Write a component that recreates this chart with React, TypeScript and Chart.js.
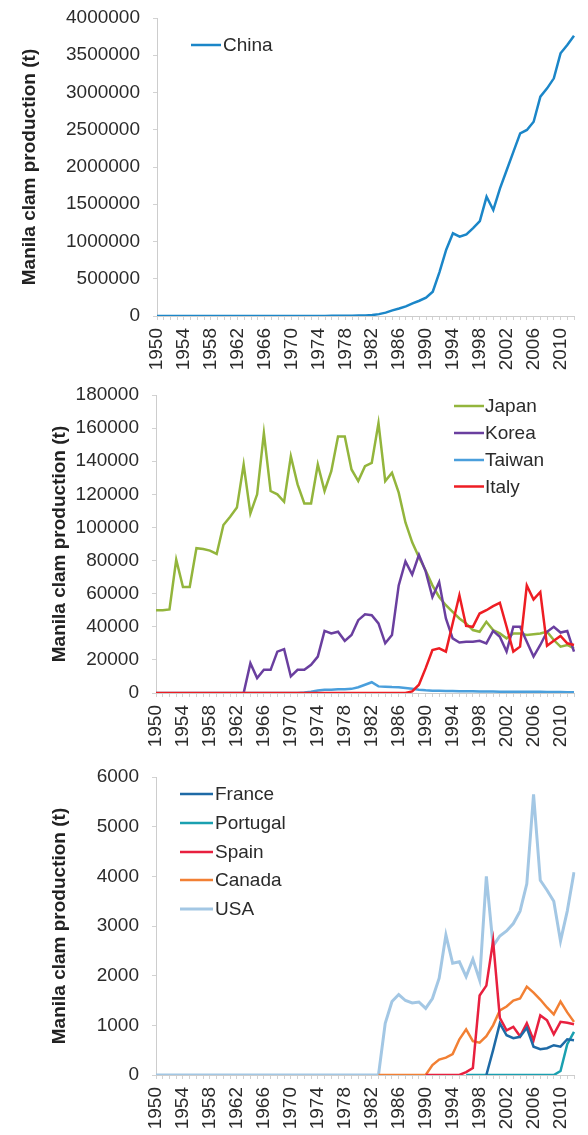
import React, { useEffect, useRef } from 'react';
import { Chart, registerables } from 'chart.js';

Chart.register(...registerables);

const YEARS = [
  1950, 1951, 1952, 1953, 1954, 1955, 1956, 1957, 1958, 1959,
  1960, 1961, 1962, 1963, 1964, 1965, 1966, 1967, 1968, 1969,
  1970, 1971, 1972, 1973, 1974, 1975, 1976, 1977, 1978, 1979,
  1980, 1981, 1982, 1983, 1984, 1985, 1986, 1987, 1988, 1989,
  1990, 1991, 1992, 1993, 1994, 1995, 1996, 1997, 1998, 1999,
  2000, 2001, 2002, 2003, 2004, 2005, 2006, 2007, 2008, 2009,
  2010, 2011, 2012,
];

// Panel 1
const CHINA = [
  0, 0, 0, 0, 0, 0, 0, 0, 0, 0,
  0, 0, 0, 0, 0, 0, 0, 0, 0, 0,
  0, 0, 0, 0, 0, 0, 2000, 3000, 4000, 5000,
  6000, 8000, 12000, 25000, 45000, 75000, 100000, 130000, 170000, 205000,
  245000, 326000, 590000, 890000, 1110000, 1065000, 1096000, 1180000, 1275000, 1600000,
  1423000, 1714000, 1960000, 2206000, 2452000, 2497000, 2608000, 2944000, 3056000, 3190000,
  3526000, 3638000, 3763000,
];

// Panel 2
const JAPAN = [
  50000, 50000, 50500, 80500, 64000, 64000, 87500, 87000, 86000, 84000,
  101500, 106500, 112000, 138000, 108500, 120000, 157000, 122000, 120000, 115500,
  143000, 126000, 114500, 114500, 138000, 122000, 134000, 155000, 155000, 135000,
  128000, 137000, 139000, 163000, 128000, 133000, 121000, 103000, 91000, 82000,
  74000, 65000, 58000, 53000, 49000, 45000, 42000, 38000, 37000, 43000,
  38000, 36000, 33000, 36000, 36000, 35000, 35500, 36000, 37000, 32000,
  28000, 29000, 27000,
];
const KOREA = [
  null, null, null, null, null, null, null, null, null, null,
  null, null, null, 0, 18000, 9000, 14000, 14000, 25000, 26500,
  10000, 14000, 14000, 17000, 22000, 37500, 36000, 37000, 31500, 35000,
  44000, 47500, 47000, 42000, 30000, 35000, 65000, 79500, 71500, 83500,
  73500, 58000, 67000, 45000, 33000, 30500, 31000, 31000, 31500, 30000,
  37500, 34000, 25000, 40000, 40000, 31000, 22000, 29000, 37000, 40000,
  36500, 37500, 25000,
];
const TAIWAN = [
  0, 0, 0, 0, 0, 0, 0, 0, 0, 0,
  0, 0, 0, 0, 0, 0, 0, 0, 0, 0,
  0, 0, 300, 800, 1500, 2000, 2000, 2200, 2300, 2500,
  3500, 5000, 6500, 4000, 3800, 3600, 3500, 3000, 2500, 2000,
  1600, 1400, 1300, 1200, 1200, 1100, 1000, 1000, 900, 900,
  900, 800, 800, 800, 700, 700, 700, 700, 600, 600,
  600, 500, 500,
];
const ITALY = [
  0, 0, 0, 0, 0, 0, 0, 0, 0, 0,
  0, 0, 0, 0, 0, 0, 0, 0, 0, 0,
  0, 0, 0, 0, 0, 0, 0, 0, 0, 0,
  0, 0, 0, 0, 0, 0, 0, 0, 1000, 5000,
  15000, 26000, 27000, 25000, 42000, 59000, 40500, 40000, 48000, 50000,
  52500, 54500, 40000, 25000, 28000, 65000, 56500, 61000, 28500, 31500,
  34500, 30000, 29000,
];

// Panel 3
const FRANCE = [
  null, null, null, null, null, null, null, null, null, null,
  null, null, null, null, null, null, null, null, null, null,
  null, null, null, null, null, null, null, null, null, null,
  null, null, null, null, null, null, null, null, null, null,
  null, null, null, null, null, null, null, null, null, 0,
  500, 1040, 800, 740, 770, 950, 570, 520, 540, 600,
  570, 720, 700,
];
const PORTUGAL = [
  null, null, null, null, null, null, null, null, null, null,
  null, null, null, null, null, null, null, null, null, null,
  null, null, null, null, null, null, null, null, null, null,
  null, null, null, null, null, null, null, null, null, null,
  null, null, null, null, null, null, 0, 0, 0, 0,
  0, 0, 0, 0, 0, 0, 0, 0, 0, 0,
  80, 620, 870,
];
const SPAIN = [
  null, null, null, null, null, null, null, null, null, null,
  null, null, null, null, null, null, null, null, null, null,
  null, null, null, null, null, null, null, null, null, null,
  null, null, null, null, null, null, null, null, null, null,
  0, 0, 0, 0, 0, 0, 60, 140, 1600, 1800,
  2700, 1150, 900, 970, 780, 1040, 700, 1200, 1100, 820,
  1070, 1050, 1020,
];
const CANADA = [
  null, null, null, null, null, null, null, null, null, null,
  null, null, null, null, null, null, null, null, null, null,
  null, null, null, null, null, null, null, null, null, null,
  null, null, null, 0, 0, 0, 0, 0, 0, 0,
  0, 200, 310, 350, 420, 720, 920, 680, 650, 780,
  1000, 1300, 1380, 1500, 1540, 1780, 1660, 1520, 1360, 1220,
  1480, 1260, 1070,
];
const USA = [
  0, 0, 0, 0, 0, 0, 0, 0, 0, 0,
  0, 0, 0, 0, 0, 0, 0, 0, 0, 0,
  0, 0, 0, 0, 0, 0, 0, 0, 0, 0,
  0, 0, 0, 0, 1040, 1480, 1620, 1500, 1450, 1470,
  1340, 1540, 1950, 2820, 2250, 2280, 1980, 2330, 1910, 4000,
  2600, 2800, 2900, 3050, 3300, 3850, 5650, 3920, 3720, 3500,
  2700, 3300, 4080,
];

const Y_TITLE = 'Manila clam production (t)';
const FONT = "'Liberation Sans', Arial, Helvetica, sans-serif";

type Series = {
  label: string;
  data: (number | null)[];
  color: string;
  width: number;
  order: number;
};

type LegendCfg = { x1: number; x2: number; textX: number; ys: number[] };

type PanelCfg = {
  top: number;
  height: number;
  padTop: number;
  padLeft: number;
  yWidth: number;
  xHeight: number;
  yMax: number;
  yStep: number;
  series: Series[];
  legend: LegendCfg;
};

const PANELS: PanelCfg[] = [
  {
    top: 0,
    height: 375,
    padTop: 18,
    padLeft: 18,
    yWidth: 139,
    xHeight: 59,
    yMax: 4000000,
    yStep: 500000,
    series: [{ label: 'China', data: CHINA, color: '#1b86c8', width: 2.5, order: 0 }],
    legend: { x1: 191, x2: 221, textX: 223, ys: [45] },
  },
  {
    top: 375,
    height: 375,
    padTop: 20,
    padLeft: 48,
    yWidth: 108,
    xHeight: 57,
    yMax: 180000,
    yStep: 20000,
    series: [
      { label: 'Japan', data: JAPAN, color: '#93b53c', width: 2.5, order: 3 },
      { label: 'Korea', data: KOREA, color: '#6a3f9f', width: 2.5, order: 2 },
      { label: 'Taiwan', data: TAIWAN, color: '#4a9fdc', width: 2.5, order: 1 },
      { label: 'Italy', data: ITALY, color: '#ee1d23', width: 2.5, order: 0 },
    ],
    legend: { x1: 454, x2: 484, textX: 485, ys: [31, 58, 85, 111.5] },
  },
  {
    top: 750,
    height: 385,
    padTop: 27,
    padLeft: 48,
    yWidth: 108,
    xHeight: 60,
    yMax: 6000,
    yStep: 1000,
    series: [
      { label: 'France', data: FRANCE, color: '#1e6aa6', width: 2.5, order: 0 },
      { label: 'Portugal', data: PORTUGAL, color: '#1aa0b0', width: 2.5, order: 1 },
      { label: 'Spain', data: SPAIN, color: '#e8203f', width: 2.5, order: 2 },
      { label: 'Canada', data: CANADA, color: '#f28034', width: 2.5, order: 3 },
      { label: 'USA', data: USA, color: '#a3c7e4', width: 3, order: 4 },
    ],
    legend: { x1: 180, x2: 213, textX: 215, ys: [44, 73, 102, 130, 159] },
  },
];

function Panel({ cfg }: { cfg: PanelCfg }) {
  const ref = useRef<HTMLCanvasElement>(null);

  useEffect(() => {
    if (!ref.current) return;
    const legendPlugin = {
      id: 'insideLegend',
      afterDraw(chart: any) {
        const ctx = chart.ctx as CanvasRenderingContext2D;
        ctx.save();
        cfg.series.forEach((s, i) => {
          const y = cfg.legend.ys[i];
          ctx.strokeStyle = s.color;
          ctx.lineWidth = s.width;
          ctx.beginPath();
          ctx.moveTo(cfg.legend.x1, y);
          ctx.lineTo(cfg.legend.x2, y);
          ctx.stroke();
          ctx.fillStyle = '#2b2b2b';
          ctx.font = `19px ${FONT}`;
          ctx.textBaseline = 'middle';
          ctx.textAlign = 'left';
          ctx.fillText(s.label, cfg.legend.textX, y + 1);
        });
        ctx.restore();
      },
    };

    const chart = new Chart(ref.current, {
      type: 'line',
      data: {
        labels: YEARS.map(String),
        datasets: cfg.series.map((s) => ({
          label: s.label,
          data: s.data,
          borderColor: s.color,
          backgroundColor: s.color,
          borderWidth: s.width,
          pointRadius: 0,
          pointHoverRadius: 0,
          tension: 0,
          fill: false,
          spanGaps: false,
          order: s.order,
        })),
      },
      options: {
        responsive: false,
        animation: false,
        devicePixelRatio: 1,
        layout: { padding: { left: cfg.padLeft, top: cfg.padTop, right: 14, bottom: 0 } },
        plugins: { legend: { display: false }, tooltip: { enabled: false } },
        scales: {
          x: {
            type: 'category',
            offset: false,
            grid: { display: true, drawOnChartArea: false, drawTicks: true, tickLength: 4, color: '#d2d2d2' },
            border: { display: true, color: '#cdcdcd', width: 1 },
            ticks: {
              autoSkip: false,
              maxRotation: 90,
              minRotation: 90,
              padding: 8,
              color: '#2b2b2b',
              font: { family: FONT, size: 19 },
              callback: (_v: any, i: number) => ((YEARS[i] - YEARS[0]) % 4 === 0 ? String(YEARS[i]) : ''),
            },
            afterFit: (s: any) => {
              s.height = cfg.xHeight;
              s.paddingLeft = 0;
              s.paddingRight = 0;
            },
          },
          y: {
            min: 0,
            max: cfg.yMax,
            grid: { display: true, drawOnChartArea: false, drawTicks: true, tickLength: 4, color: '#d2d2d2' },
            border: { display: true, color: '#cdcdcd', width: 1 },
            ticks: {
              stepSize: cfg.yStep,
              padding: 13,
              color: '#2b2b2b',
              font: { family: FONT, size: 19 },
              callback: (v: any) => String(v),
            },
            title: {
              display: true,
              text: Y_TITLE,
              color: '#222',
              font: { family: FONT, size: 19, weight: 'bold' },
              padding: 0,
            },
            afterFit: (s: any) => {
              s.width = cfg.yWidth;
              s.paddingTop = 0;
              s.paddingBottom = 0;
            },
          },
        },
      } as any,
      plugins: [legendPlugin],
    });
    return () => chart.destroy();
  }, [cfg]);

  return (
    <div style={{ position: 'absolute', left: 0, top: cfg.top, width: 588, height: cfg.height }}>
      <canvas ref={ref} width={588} height={cfg.height} style={{ display: 'block' }} />
    </div>
  );
}

export default function App() {
  return (
    <div style={{ position: 'absolute', left: 0, top: 0, width: 588, height: 1135, background: '#fff' }}>
      {PANELS.map((p, i) => (
        <Panel key={i} cfg={p} />
      ))}
    </div>
  );
}
